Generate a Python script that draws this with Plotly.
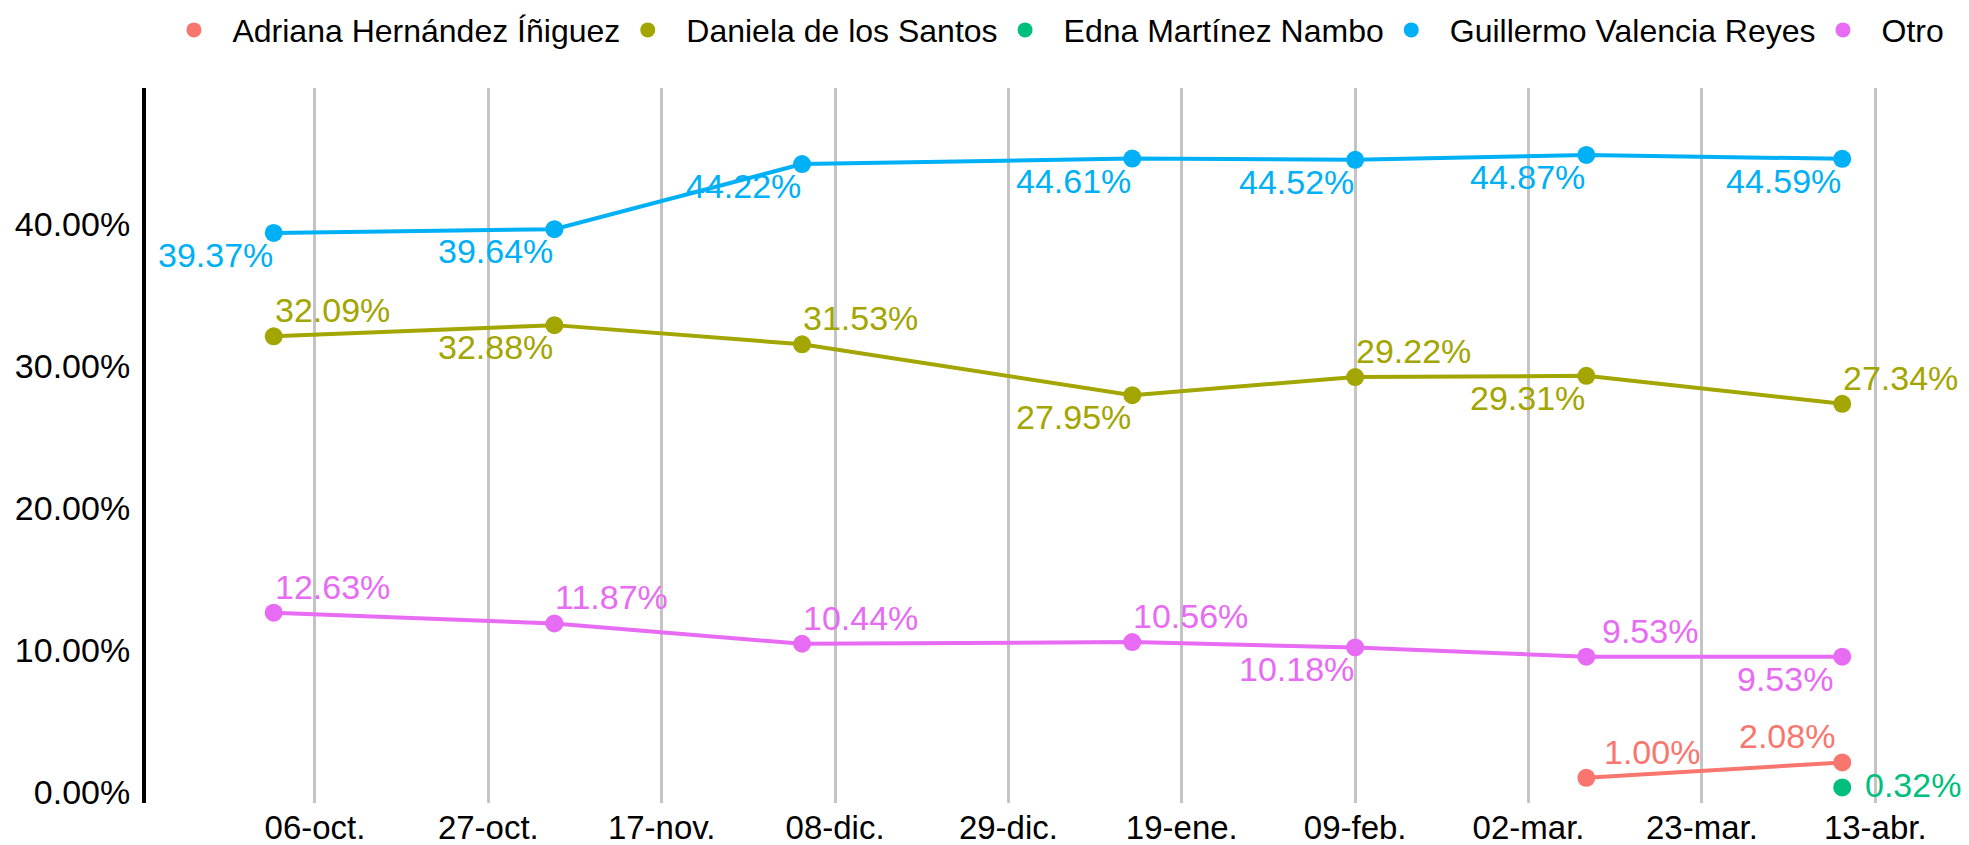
import plotly.graph_objects as go

# ---- data ----
dates_main = ["2024-10-01", "2024-11-04", "2024-12-04", "2025-01-13",
              "2025-02-09", "2025-03-09", "2025-04-09"]
guillermo = [39.37, 39.64, 44.22, 44.61, 44.52, 44.87, 44.59]
daniela = [32.09, 32.88, 31.53, 27.95, 29.22, 29.31, 27.34]
otro = [12.63, 11.87, 10.44, 10.56, 10.18, 9.53, 9.53]
dates_adriana = ["2025-03-09", "2025-04-09"]
adriana = [1.00, 2.08]
dates_edna = ["2025-04-09"]
edna = [0.32]

tick_dates = ["2024-10-06", "2024-10-27", "2024-11-17", "2024-12-08", "2024-12-29",
              "2025-01-19", "2025-02-09", "2025-03-02", "2025-03-23", "2025-04-13"]
tick_labels = ["06-oct.", "27-oct.", "17-nov.", "08-dic.", "29-dic.",
               "19-ene.", "09-feb.", "02-mar.", "23-mar.", "13-abr."]
y_ticks = [0, 10, 20, 30, 40]
y_tick_labels = ["0.00%", "10.00%", "20.00%", "30.00%", "40.00%"]

names = ["Adriana Hernández Íñiguez", "Daniela de los Santos", "Edna Martínez Nambo",
         "Guillermo Valencia Reyes", "Otro"]
colors = ["#F8766D", "#A3A500", "#00BF7D", "#00B0F6", "#E76BF3"]

# label placement (styling): tr = top right, bl = bottom left, tl = top left, mr = middle right
pos_adriana = ["tr", "tl"]
pos_daniela = ["tr", "bl", "tr", "bl", "tr", "bl", "tr"]
pos_edna = ["mr"]
pos_guillermo = ["bl"] * 7
pos_otro = ["tr", "tr", "tr", "tr", "bl", "tr", "bl"]
# extra horizontal nudges of labels, px (styling)
nudge_adriana = [17, -6]
nudge_daniela = [0] * 7
nudge_edna = [0]
nudge_guillermo = [0] * 7
nudge_otro = [0, 0, 0, 0, 0, 15, -8]

FONT = "Liberation Sans, Arial, sans-serif"
FS_YTICK = 34
FS_XTICK = 33
FS_LABEL = 34
FS_LEGEND = 32

fig = go.Figure()

series = [
    (dates_adriana, adriana, pos_adriana, nudge_adriana, colors[0]),
    (dates_main, daniela, pos_daniela, nudge_daniela, colors[1]),
    (dates_edna, edna, pos_edna, nudge_edna, colors[2]),
    (dates_main, guillermo, pos_guillermo, nudge_guillermo, colors[3]),
    (dates_main, otro, pos_otro, nudge_otro, colors[4]),
]

ANCHORS = {
    "tr": dict(xanchor="left", yanchor="bottom", xshift=-1, yshift=5),
    "tl": dict(xanchor="right", yanchor="bottom", xshift=1, yshift=5),
    "bl": dict(xanchor="right", yanchor="top", xshift=1, yshift=-1),
    "mr": dict(xanchor="left", yanchor="middle", xshift=21, yshift=2),
}

annotations = []
for (xs, ys, pos, nudge, col) in series:
    fig.add_trace(go.Scatter(
        x=xs, y=ys, mode="lines+markers",
        line=dict(color=col, width=4), marker=dict(color=col, size=18),
        cliponaxis=False, showlegend=False, hoverinfo="x+y"))
    for x, y, p, n in zip(xs, ys, pos, nudge):
        a = dict(ANCHORS[p])
        a["xshift"] += n
        annotations.append(dict(
            x=x, y=y, xref="x", yref="y", text=f"{y:.2f}%", showarrow=False,
            font=dict(family=FONT, size=FS_LABEL, color=col), **a))

# legend entries (points only, like ggplot keys)
for name, col in zip(names, colors):
    fig.add_trace(go.Scatter(x=[None], y=[None], mode="markers", name="\u2002" + name,
                             marker=dict(color=col, size=15)))

# the page body has an 8px margin, so the figure is sized to fit the 1969x845 window
fig.update_layout(
    width=1961, height=837,
    margin=dict(l=138, r=5, t=80, b=42, autoexpand=False),
    paper_bgcolor="white", plot_bgcolor="white",
    font=dict(family=FONT, size=FS_YTICK, color="black"),
    annotations=annotations,
    legend=dict(orientation="h", x=0.503, xanchor="center", y=1.081, yanchor="middle",
                font=dict(family=FONT, size=FS_LEGEND, color="black"),
                itemsizing="trace", itemwidth=35),
    xaxis=dict(
        type="date", range=["2024-09-15 12:45", "2025-04-23 18:00"],
        tickmode="array", tickvals=tick_dates, ticktext=tick_labels,
        showgrid=True, gridcolor="#c4c4c4", gridwidth=2.5,
        showline=False, zeroline=False, ticks="", ticklabelstandoff=2,
        tickfont=dict(family=FONT, size=FS_XTICK, color="black")),
    yaxis=dict(
        range=[-0.775, 49.58], tickmode="array", tickvals=y_ticks, ticktext=y_tick_labels,
        showgrid=False, zeroline=False, showline=True, linecolor="black", linewidth=4,
        ticks="", ticklabelstandoff=5,
        tickfont=dict(family=FONT, size=FS_YTICK, color="black")),
)

fig.write_html("out.html")
